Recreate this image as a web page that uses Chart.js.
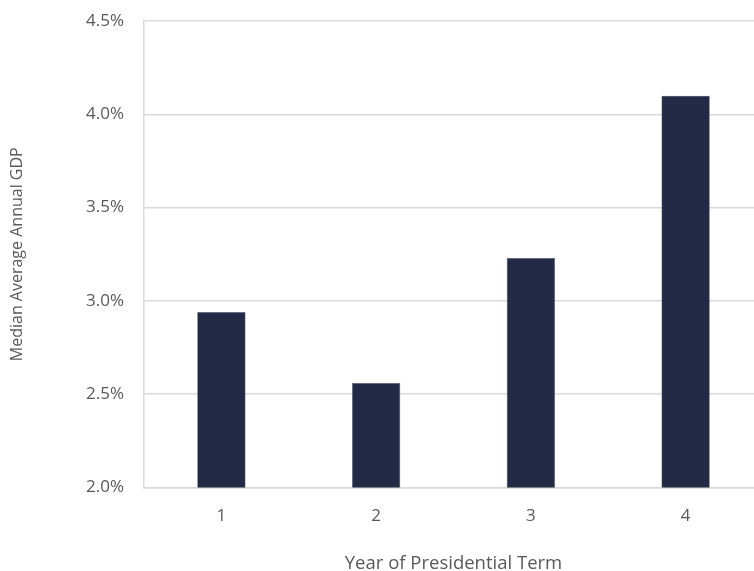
<!DOCTYPE html>
<html>
<head>
<meta charset="utf-8">
<script src="https://cdn.jsdelivr.net/npm/chart.js@4"></script>
<style>
  html, body { margin: 0; padding: 0; background: #fff; overflow: hidden; }
  #wrap { width: 754px; height: 571px; overflow: hidden; position: relative; }
  #box { width: 772px; height: 571px; position: absolute; left: 0; top: 0; }
</style>
</head>
<body>
<div id="wrap"><div id="box"><canvas id="chart"></canvas></div></div>
<script>
// year of the presidential term
const years = ['1', '2', '3', '4'];
// median average annual GDP growth, percent
const gdpGrowth = [2.94, 2.56, 3.23, 4.10];
// y axis ticks, percent
const yTicks = [2.0, 2.5, 3.0, 3.5, 4.0, 4.5];

const textColor = '#595959';
const gridColor = '#d9d9d9';
const fontFamily = "'Open Sans', 'Noto Sans', sans-serif";

new Chart(document.getElementById('chart').getContext('2d'), {
    type: 'bar',
    data: {
        labels: years,
        datasets: [{
            label: 'Median Average Annual GDP',
            data: gdpGrowth,
            backgroundColor: '#222a45',
            borderColor: '#5a6078',
            borderWidth: 0.6,
            barPercentage: 0.3125,
            categoryPercentage: 1
        }]
    },
    options: {
        responsive: true,
        maintainAspectRatio: false,
        animation: false,
        layout: { padding: { top: 21, right: 9, bottom: 0, left: 0 } },
        plugins: {
            legend: { display: false },
            tooltip: { enabled: false }
        },
        scales: {
            x: {
                grid: { display: false, drawTicks: false },
                border: { display: true, color: gridColor, width: 1.5 },
                ticks: { color: textColor, font: { family: fontFamily, size: 17 }, padding: 18 },
                title: {
                    display: true,
                    text: 'Year of Presidential Term',
                    color: textColor,
                    font: { family: fontFamily, size: 18.5 },
                    padding: { top: 19, bottom: -4 }
                },
                afterFit: (scale) => { scale.height = 83.5; }
            },
            y: {
                min: yTicks[0],
                max: yTicks[yTicks.length - 1],
                afterBuildTicks: (scale) => { scale.ticks = yTicks.map(v => ({ value: v })); },
                grid: { color: gridColor, lineWidth: 1.5, drawTicks: false },
                border: { display: true, color: gridColor, width: 1.5 },
                ticks: {
                    color: textColor,
                    font: { family: fontFamily, size: 17 },
                    padding: 20,
                    callback: (v) => v.toFixed(1) + '%'
                },
                title: {
                    display: true,
                    text: 'Median Average Annual GDP',
                    color: textColor,
                    font: { family: fontFamily, size: 16 },
                    padding: { top: 8, bottom: 0 }
                },
                afterFit: (scale) => {
                    scale.width = 144;
                    // let the layout padding alone decide the top of the plot
                    scale.paddingTop = 0;
                    scale.paddingBottom = 0;
                }
            }
        }
    }
});
</script>
</body>
</html>
